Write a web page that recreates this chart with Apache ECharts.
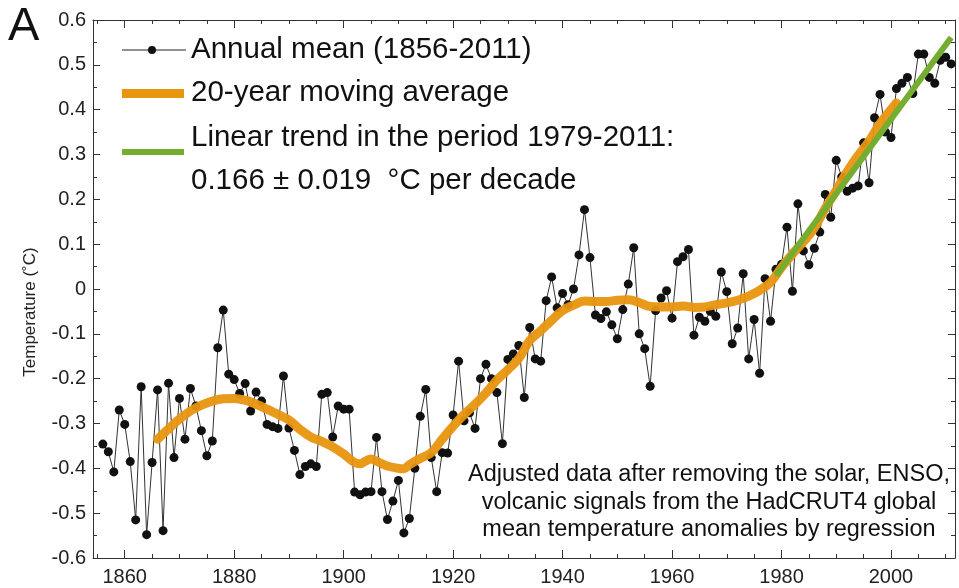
<!DOCTYPE html>
<html>
<head>
<meta charset="utf-8">
<script src="https://cdn.jsdelivr.net/npm/echarts@6/dist/echarts.min.js"></script>
<style>
html,body{margin:0;padding:0;background:#fff;}
#chart{width:959px;height:588px;}
</style>
</head>
<body>
<div id="chart"></div>
<script>
// ---- data ----
const annualStartYear = 1856;
const annualValues = [
  -0.346,-0.363,-0.408,-0.270,-0.302,-0.385,-0.515,-0.218,-0.548,-0.387, // 1856-1865
  -0.225,-0.539,-0.210,-0.376,-0.244,-0.335,-0.222,-0.261,-0.316,-0.372, // 1866-1875
  -0.339,-0.131,-0.047,-0.190,-0.202,-0.233,-0.211,-0.272,-0.230,-0.250, // 1876-1885
  -0.302,-0.307,-0.311,-0.194,-0.310,-0.360,-0.414,-0.396,-0.390,-0.396, // 1886-1895
  -0.235,-0.231,-0.330,-0.261,-0.268,-0.268,-0.453,-0.459,-0.453,-0.452, // 1896-1905
  -0.331,-0.452,-0.514,-0.473,-0.427,-0.544,-0.512,-0.400,-0.284,-0.224, // 1906-1915
  -0.376,-0.452,-0.365,-0.366,-0.281,-0.161,-0.294,-0.276,-0.311,-0.200, // 1916-1925
  -0.168,-0.200,-0.231,-0.345,-0.157,-0.145,-0.126,-0.242,-0.086,-0.156, // 1926-1935
  -0.161,-0.026, 0.027,-0.042,-0.010,-0.035, 0.000, 0.076, 0.177, 0.070, // 1936-1945
  -0.058,-0.066,-0.051,-0.080,-0.111,-0.046, 0.011, 0.092,-0.100,-0.133, // 1946-1955
  -0.217,-0.048,-0.020,-0.004,-0.065, 0.061, 0.072, 0.088,-0.103,-0.063, // 1956-1965
  -0.072,-0.050,-0.061, 0.038,-0.006,-0.122,-0.087, 0.034,-0.156,-0.068, // 1966-1975
  -0.188, 0.023,-0.072, 0.044, 0.055, 0.138,-0.005, 0.190, 0.085, 0.054, // 1976-1985
   0.091, 0.127, 0.211, 0.160, 0.287, 0.250, 0.218, 0.225, 0.230, 0.326, // 1986-1995
   0.237, 0.382, 0.434, 0.350, 0.338, 0.447, 0.459, 0.472, 0.436, 0.524, // 1996-2005
   0.524, 0.472, 0.459, 0.510, 0.517, 0.502                              // 2006-2011
];

const maYears  = [1866,1868,1870,1872,1874,1876,1878,1880,1882,1884,1886,1888,1890,1892,1894,1896,1898,1900,1902,1903,1904,1905,1906,1908,1910,1911,1912,1914,1916,1918,1920,1922,1924,1926,1928,1930,1932,1934,1936,1938,1940,1942,1944,1946,1948,1950,1952,1954,1956,1958,1960,1962,1964,1966,1968,1970,1972,1974,1976,1978,1980,1982,1984,1986,1988,1990,1992,1994,1996,1998,2000,2001];
const maValues = [-0.335,-0.312,-0.290,-0.272,-0.259,-0.250,-0.245,-0.244,-0.248,-0.257,-0.268,-0.280,-0.292,-0.313,-0.330,-0.340,-0.352,-0.368,-0.387,-0.390,-0.384,-0.379,-0.384,-0.395,-0.400,-0.401,-0.392,-0.378,-0.365,-0.335,-0.306,-0.280,-0.257,-0.232,-0.203,-0.180,-0.155,-0.115,-0.093,-0.070,-0.048,-0.036,-0.027,-0.028,-0.028,-0.025,-0.024,-0.030,-0.039,-0.040,-0.040,-0.038,-0.041,-0.040,-0.035,-0.031,-0.025,-0.016,-0.003,0.015,0.048,0.078,0.105,0.136,0.180,0.220,0.262,0.298,0.330,0.369,0.400,0.415];

const trendYears  = [1979, 2011];
const trendValues = [0.030, 0.561];

const xMajorTicks = [1860,1880,1900,1920,1940,1960,1980,2000];
const xMinorTicks = [1855,1865,1870,1875,1885,1890,1895,1905,1910,1915,1925,1930,1935,1945,1950,1955,1965,1970,1975,1985,1990,1995,2005,2010];

const legendLabels = ['Annual mean (1856-2011)', '20-year moving average', 'Linear trend in the period 1979-2011:', '0.166 \u00B1 0.019  \u00B0C per decade'];
const noteLines = ['Adjusted data after removing the solar, ENSO,', 'volcanic signals from the HadCRUT4 global', 'mean temperature anomalies by regression'];

// ---- build ----
const annualData = annualValues.map((v, i) => [annualStartYear + i, v]);
const maData = maYears.map((y, i) => [y, maValues[i]]);
const trendData = trendYears.map((y, i) => [y, trendValues[i]]);

const FONT = 'Liberation Sans, Arial, sans-serif';
const AX = '#333';
const ORANGE = '#E8950F';
const GREEN = '#74AD30';
const XMIN = 1854.2, XMAX = 2011.7;

function xAx(pos, ticks, len, showLine, labels) {
  return {
    type: 'value', min: XMIN, max: XMAX, position: pos,
    axisLine: { show: showLine, onZero: false, lineStyle: { color: AX, width: 1 } },
    axisTick: { show: true, inside: true, length: len, customValues: ticks, lineStyle: { color: AX, width: 1 } },
    axisLabel: labels ? { show: true, customValues: ticks, fontSize: 20, color: '#222', fontFamily: FONT, margin: 9,
      formatter: v => String(Math.round(v)) } : { show: false },
    splitLine: { show: false }
  };
}
function yAx(pos, labels) {
  return {
    type: 'value', min: -0.6, max: 0.6, interval: 0.1, position: pos,
    axisLine: { show: true, onZero: false, lineStyle: { color: AX, width: 1 } },
    axisTick: { show: true, inside: true, length: 7, lineStyle: { color: AX, width: 1 } },
    minorTick: { show: true, splitNumber: 2, length: 4, lineStyle: { color: AX, width: 1 } },
    axisLabel: labels ? {
      show: true, fontSize: 20, color: '#222', fontFamily: FONT, margin: 7,
      formatter: v => Math.abs(v) < 1e-9 ? '0' : v.toFixed(1)
    } : { show: false },
    splitLine: { show: false }
  };
}

const chart = echarts.init(document.getElementById('chart'), null, { renderer: 'canvas' });

const legX = 191;
const legY = [50, 93, 138, 181];

chart.setOption({
  animation: false,
  backgroundColor: '#fff',
  grid: { left: 93, right: 4, top: 20, bottom: 30, containLabel: false },
  xAxis: [
    xAx('bottom', xMajorTicks, 8, true, true),
    xAx('bottom', xMinorTicks, 4, false, false),
    xAx('top', xMajorTicks, 8, true, false),
    xAx('top', xMinorTicks, 4, false, false)
  ],
  yAxis: [yAx('left', true), yAx('right', false)],
  series: [
    {
      type: 'line', name: 'annual', data: annualData, xAxisIndex: 0, yAxisIndex: 0,
      symbol: 'circle', symbolSize: 9, showAllSymbol: true,
      itemStyle: { color: '#111' },
      lineStyle: { color: '#333', width: 1 },
      z: 2
    },
    {
      type: 'line', name: 'ma', data: maData, smooth: 0.4, symbol: 'none',
      lineStyle: { color: ORANGE, width: 9, opacity: 0.95, cap: 'round' },
      z: 3
    },
    {
      type: 'line', name: 'trend', data: trendData, symbol: 'none',
      lineStyle: { color: GREEN, width: 6 },
      z: 4
    }
  ],
  graphic: [
    { type: 'text', left: 8, top: 4, style: { text: 'A', font: '47px ' + FONT, fill: '#111' } },
    { type: 'text', x: 30, y: 312, rotation: Math.PI / 2,
      style: { text: 'Temperature (\u02DAC)', font: '17px ' + FONT, fill: '#222', align: 'center', verticalAlign: 'middle' } },
    // legend
    { type: 'line', shape: { x1: 122, y1: legY[0], x2: 186, y2: legY[0] }, style: { stroke: '#222', lineWidth: 1 } },
    { type: 'circle', shape: { cx: 152, cy: legY[0], r: 4 }, style: { fill: '#111' } },
    { type: 'rect', shape: { x: 122, y: legY[1] - 4, width: 62, height: 9 }, style: { fill: ORANGE } },
    { type: 'rect', shape: { x: 122, y: 149, width: 62, height: 6 }, style: { fill: GREEN } },
    ...legendLabels.map((t, i) => ({
      type: 'text', x: legX, y: legY[i],
      style: { text: t, font: '29.5px ' + FONT, fill: '#111', verticalAlign: 'middle', align: 'left' }
    })),
    // note
    ...noteLines.map((t, i) => ({
      type: 'text', x: 709, y: 475 + i * 27.5,
      style: { text: t, font: '23.5px ' + FONT, fill: '#111', verticalAlign: 'middle', align: 'center' }
    }))
  ]
});
</script>
</body>
</html>
